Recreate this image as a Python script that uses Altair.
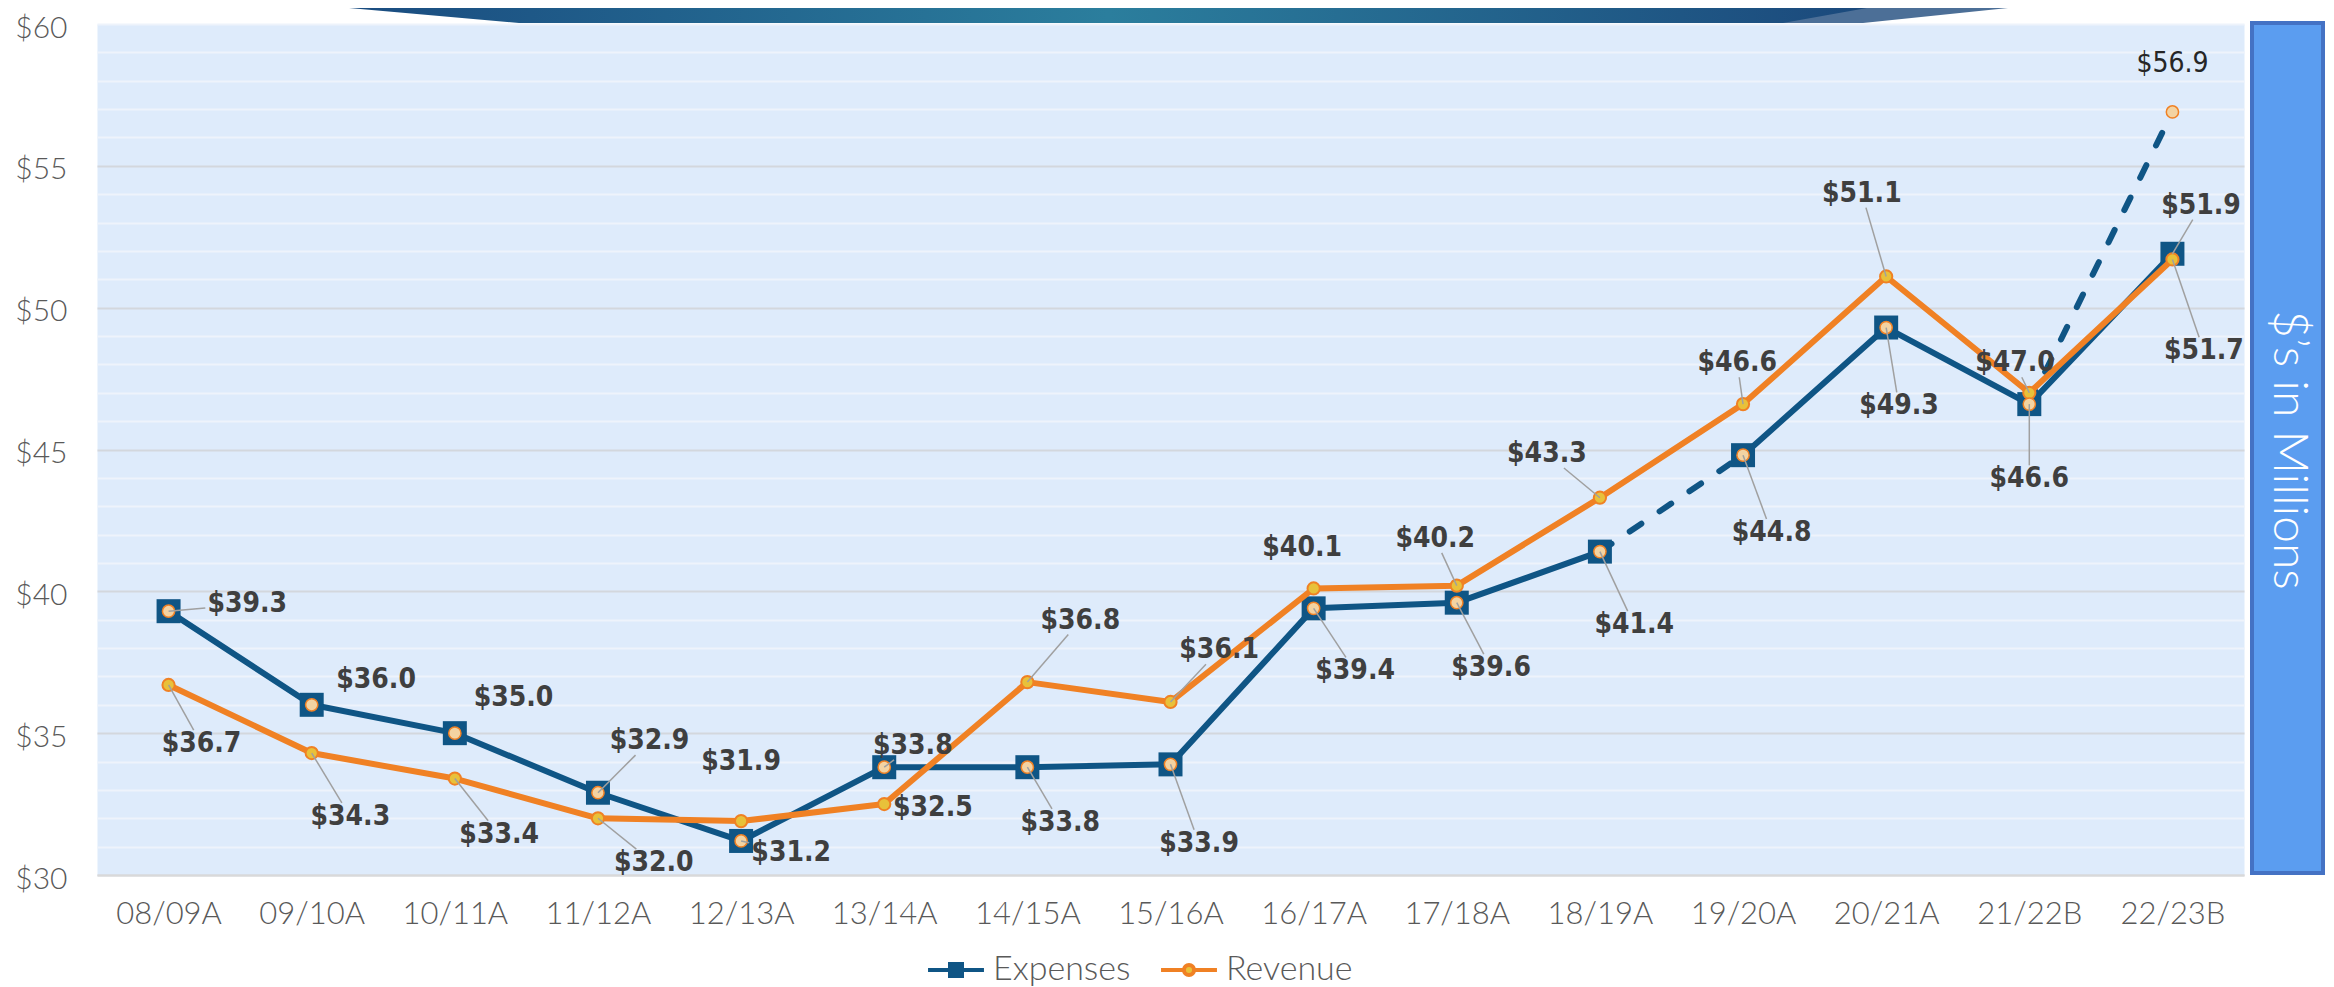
import json
import math
import altair as alt
import pandas as pd

# ---------------- data ----------------
categories = ["08/09A", "09/10A", "10/11A", "11/12A", "12/13A", "13/14A", "14/15A",
              "15/16A", "16/17A", "17/18A", "18/19A", "19/20A", "20/21A", "21/22B", "22/23B"]
expenses = [39.3, 36.0, 35.0, 32.9, 31.2, 33.8, 33.8, 33.9, 39.4, 39.6, 41.4, 44.8, 49.3, 46.6, 51.9]
revenue = [36.7, 34.3, 33.4, 32.0, 31.9, 32.5, 36.8, 36.1, 40.1, 40.2, 43.3, 46.6, 51.1, 47.0, 51.7]
projection_2223 = 56.9                      # dashed expense projection for 22/23B
dashed_expense_segment = ("18/19A", "19/20A")
projection_start = "21/22B"
series_names = ["Expenses", "Revenue"]
y_grid_values = list(range(30, 61))         # minor grid every $1M
y_label_step = 5                            # labels / major grid every $5M

# label placement relative to each point (category units, $M units)
exp_dx = [0.55, 0.45, 0.41, 0.36, 0.35, 0.20, 0.23, 0.20, 0.29, 0.24, 0.24, 0.20, 0.09, 0.00, 0.20]
exp_dy = [0.24, 0.87, 1.24, 1.82, -0.41, 0.75, -1.96, -2.80, -2.22, -2.31, -2.59, -2.74, -2.78, -2.65, 1.70]
rev_dx = [0.23, 0.27, 0.31, 0.39, 0.00, 0.34, 0.37, 0.34, -0.08, -0.15, -0.37, -0.04, -0.17, -0.10, 0.22]
rev_dy = [-2.09, -2.25, -1.98, -1.58, 2.09, -0.14, 2.17, 1.82, 1.44, 1.65, 1.54, 1.44, 2.92, 1.04, -3.24]
proj_dx, proj_dy = 0.0, 1.68
exp_leader = [1, 0, 0, 1, 1, 1, 1, 1, 1, 1, 1, 1, 1, 1, 1]
rev_leader = [1, 1, 1, 1, 0, 0, 1, 1, 0, 1, 1, 1, 1, 1, 1]

# ---------------- styling ----------------
W, H = 2147, 851
BLUE = "#0F5585"
ORANGE = "#F08124"
YELLOW = "#E8C13A"
BEIGE = "#F3D3A2"
LABEL_FONT = "DejaVu Sans Condensed, Lato"
AXIS_FONT = "Lato"
GRAY_TXT = "#595959"

n = len(categories)
idx = list(range(n))
d0 = categories.index(dashed_expense_segment[0])
d1 = categories.index(dashed_expense_segment[1])
p0 = categories.index(projection_start)

exp_solid_df = pd.DataFrame({"i": idx, "v": expenses, "seg": [0 if i <= d0 else 1 for i in idx]})
dashed_df = pd.DataFrame({"i": [d0, d1, p0, n - 1],
                          "v": [expenses[d0], expenses[d1], expenses[p0], projection_2223],
                          "seg": [0, 0, 1, 1]})
exp_df = pd.DataFrame({"i": idx, "v": expenses})
rev_df = pd.DataFrame({"i": idx, "v": revenue})
beige_df = pd.DataFrame({"i": idx, "v": expenses[:-1] + [projection_2223]})

UX, UY = W / 15.0, H / 30.0
HW, HH = 42.0, 14.0


def label_frame(vals, dxs, dys, shows):
    rows = []
    for i, (v, a, b, s) in enumerate(zip(vals, dxs, dys, shows)):
        px, py = a * UX, b * UY
        sx = HW / abs(px) if px else math.inf
        sy = HH / abs(py) if py else math.inf
        t = max(0.0, 1.0 - min(sx, sy))
        rows.append(dict(i=i, v=v, lx=i + a, ly=v + b, text=f"${v:.1f}",
                         ex=i + t * a, ey=v + t * b, show=bool(s) and t > 0.05))
    return pd.DataFrame(rows)


exp_lab = label_frame(expenses, exp_dx, exp_dy, exp_leader)
rev_lab = label_frame(revenue, rev_dx, rev_dy, rev_leader)
proj_lab = pd.DataFrame({"lx": [n - 1 + proj_dx], "ly": [projection_2223 + proj_dy],
                         "text": [f"${projection_2223:.1f}"]})
leaders_df = pd.concat([exp_lab[exp_lab.show], rev_lab[rev_lab.show]])

# ---------------- scales / axes ----------------
x_scale = alt.Scale(domain=[-0.5, n - 0.5], nice=False, zero=False)
y_scale = alt.Scale(domain=[30, 60], nice=False, zero=False)
x_axis = alt.Axis(values=idx, labelExpr=json.dumps(categories) + "[datum.value]",
                  grid=False, ticks=False, domainColor="#D9D9D9", domainWidth=2,
                  labelFont=AXIS_FONT, labelFontWeight=300, labelFontSize=31,
                  labelColor=GRAY_TXT, labelPadding=24, labelOverlap=False,
                  labelFlush=False, title=None)
y_axis = alt.Axis(values=y_grid_values,
                  labelExpr=f"datum.value % {y_label_step} === 0 ? '$' + datum.value : ''",
                  grid=True, gridWidth=2,
                  gridColor={"condition": {"test": f"datum.value % {y_label_step} === 0 && datum.value < 60",
                                           "value": "#D3D7DD"}, "value": "#EEF3FB"},
                  ticks=False, domain=False, labelFont=AXIS_FONT, labelFontWeight=300,
                  labelFontSize=30, labelColor=GRAY_TXT, labelPadding=30, labelOffset=4,
                  labelOverlap=False, labelFlush=False, title=None)


def X(f):
    return alt.X(f"{f}:Q", scale=x_scale, axis=x_axis)


def Y(f):
    return alt.Y(f"{f}:Q", scale=y_scale, axis=y_axis)


# ---------------- decorative banner + side panel ----------------
banner_dark = pd.DataFrame({"bx": [252, 422, 1686, 1770], "by": [-16, -16, -16, -16], "by2": [-16, -1, -1, -16]})
banner_light = pd.DataFrame({"bx": [1600, 1766, 1911], "by": [-16, -16, -16], "by2": [-1, -1, -16]})
dark_grad = alt.LinearGradient(gradient="linear", x1=0, x2=1, y1=0, y2=0,
                               stops=[alt.GradientStop(offset=0, color="#1A4C80"),
                                      alt.GradientStop(offset=0.5, color="#2B7E9D"),
                                      alt.GradientStop(offset=1, color="#1B497C")])
b_light = alt.Chart(banner_light).mark_area(color="#4C6F97").encode(
    x=alt.X("bx:Q", scale=None), y=alt.Y("by:Q", scale=None), y2="by2")
b_dark = alt.Chart(banner_dark).mark_area(color=dark_grad).encode(
    x=alt.X("bx:Q", scale=None), y=alt.Y("by:Q", scale=None), y2="by2")

panel_df = pd.DataFrame({"label": ["$\u2019s in Millions"]})
panel_rect = alt.Chart(panel_df).mark_rect(fill="#5B9DF0", stroke="#4472C4", strokeWidth=4).encode(
    x=alt.value(2155), x2=alt.value(2226), y=alt.value(-1), y2=alt.value(849))
panel_text = alt.Chart(panel_df).mark_text(angle=90, font=AXIS_FONT, fontWeight=300, fontSize=48,
                                           color="white", align="center", baseline="middle").encode(
    x=alt.value(2191), y=alt.value(426), text="label:N")

# ---------------- series ----------------
exp_line = alt.Chart(exp_solid_df).mark_line(color=BLUE, strokeWidth=6, strokeJoin="round").encode(
    x=X("i"), y=Y("v"), detail="seg:N")
dash_line = alt.Chart(dashed_df).mark_line(color=BLUE, strokeWidth=6, strokeDash=[14, 22],
                                           strokeCap="round").encode(x=X("i"), y=Y("v"), detail="seg:N")
exp_sq = alt.Chart(exp_df).mark_point(shape="square", filled=True, size=576, color=BLUE, opacity=1).encode(
    x=X("i"), y=Y("v"))
rev_line = alt.Chart(rev_df).mark_line(color=ORANGE, strokeWidth=6, strokeJoin="round").encode(
    x=X("i"), y=Y("v"))
rev_pts = alt.Chart(rev_df).mark_point(shape="circle", size=150, fill=YELLOW, stroke=ORANGE,
                                       strokeWidth=2, opacity=1).encode(x=X("i"), y=Y("v"))
beige_pts = alt.Chart(beige_df).mark_point(shape="circle", size=150, fill=BEIGE, stroke=ORANGE,
                                           strokeWidth=1.5, opacity=1).encode(x=X("i"), y=Y("v"))
leaders = alt.Chart(leaders_df).mark_rule(color="#A0A0A0", strokeWidth=1.5).encode(
    x=X("i"), x2="ex", y=Y("v"), y2="ey")
lab_style = dict(font=LABEL_FONT, fontWeight="bold", fontSize=28, color="#3F3F3F",
                 align="center", baseline="middle")
exp_text = alt.Chart(exp_lab).mark_text(**lab_style).encode(x=X("lx"), y=Y("ly"), text="text:N")
rev_text = alt.Chart(rev_lab).mark_text(**lab_style).encode(x=X("lx"), y=Y("ly"), text="text:N")
proj_text = alt.Chart(proj_lab).mark_text(font=LABEL_FONT, fontSize=28, color="#262626",
                                          align="center", baseline="middle").encode(
    x=X("lx"), y=Y("ly"), text="text:N")

# ---------------- legend ----------------
path_exp = "M-2.33,0H2.33M-0.5,-0.5H0.5V0.5H-0.5Z"
path_rev = ("M-2.33,0H-0.42M0.42,0H2.33M0.42,0A0.42,0.42 0 1,1 -0.42,0"
            "A0.42,0.42 0 1,1 0.42,0Z")
legend_df = pd.DataFrame({"series": series_names, "i": [0, 0], "v": [40, 40]})
leg = alt.Legend(orient="none", legendX=842, legendY=929, direction="horizontal", title=None,
                 symbolSize=576, symbolStrokeWidth=4, symbolOpacity=1, labelFont=AXIS_FONT,
                 labelFontWeight=300, labelFontSize=34, labelColor=GRAY_TXT, labelOffset=20,
                 columnPadding=22, padding=0)
legend_layer = alt.Chart(legend_df).transform_filter("false").mark_point(
    opacity=1, strokeWidth=4).encode(
    x=X("i"), y=Y("v"),
    shape=alt.Shape("series:N", scale=alt.Scale(domain=series_names, range=[path_exp, path_rev]), legend=leg),
    fill=alt.Fill("series:N", scale=alt.Scale(domain=series_names, range=[BLUE, YELLOW]), legend=leg),
    stroke=alt.Stroke("series:N", scale=alt.Scale(domain=series_names, range=[BLUE, ORANGE]), legend=leg),
)

chart = alt.layer(
    b_light, b_dark, panel_rect, panel_text,
    exp_line, dash_line, exp_sq, rev_line, rev_pts, beige_pts, leaders,
    exp_text, rev_text, proj_text, legend_layer,
).properties(
    width=W, height=H, padding={"left": 6, "top": 0, "right": 0, "bottom": 0},
).configure_view(fill="#DEEBFB", stroke="transparent")

chart.save("out.html", embed_options={"renderer": "svg", "actions": False})
